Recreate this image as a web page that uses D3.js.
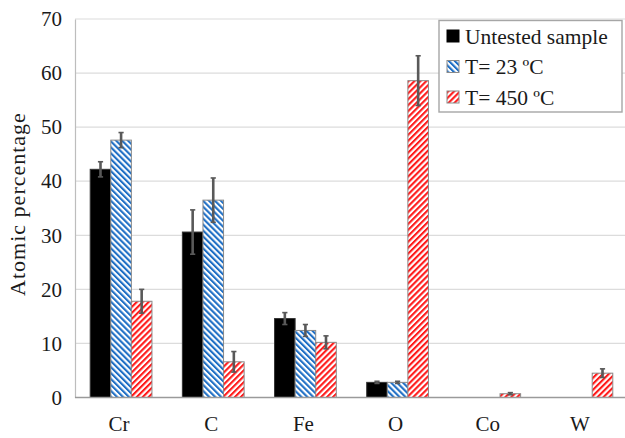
<!DOCTYPE html>
<html>
<head>
<meta charset="utf-8">
<script src="https://cdn.jsdelivr.net/npm/d3@7"></script>
<style>
  html, body { margin: 0; padding: 0; background: #fff; }
  svg { display: block; }
  svg text { font-family: "Liberation Serif", "Times New Roman", Tinos, serif !important; }
</style>
</head>
<body>
<svg id="chart" width="625" height="438"></svg>
<script>
// Element composition (atomic %) from EDS, mean and standard deviation
const elements = ["Cr", "C", "Fe", "O", "Co", "W"];
const seriesNames = ["Untested sample", "T= 23 ºC", "T= 450 ºC"];
const untested    = [42.2, 30.6, 14.6, 2.8, 0, 0];
const untestedErr = [1.4, 4.1, 1.1, 0.2, 0, 0];
const t23         = [47.6, 36.5, 12.4, 2.8, 0, 0];
const t23Err      = [1.4, 4.1, 1.1, 0.2, 0, 0];
const t450        = [17.8, 6.6, 10.2, 58.6, 0.7, 4.5];
const t450Err     = [2.2, 1.9, 1.2, 4.6, 0.2, 0.8];
const yTicks = [0, 10, 20, 30, 40, 50, 60, 70];

const values = [untested, t23, t450];
const errors = [untestedErr, t23Err, t450Err];

const svg = d3.select("#chart");
const W = 625, H = 438;
const plotLeft = 75, plotRight = 628, plotTop = 19, plotBottom = 397.5;
const serifFace = '"Liberation Serif", "Times New Roman", Tinos, serif';

// Hatch patterns
const defs = svg.append("defs");
function hatch(id, color, angle) {
  const p = defs.append("pattern")
    .attr("id", id).attr("patternUnits", "userSpaceOnUse")
    .attr("width", 4.2).attr("height", 4.2)
    .attr("patternTransform", `rotate(${angle})`);
  p.append("rect").attr("width", 4.2).attr("height", 4.2).attr("fill", "#fff");
  p.append("rect").attr("width", 2.1).attr("height", 4.2).attr("fill", color);
}
hatch("hatchBlue", "#1f6fc5", -45);
hatch("hatchRed", "#ff1a1a", 45);

const fills = ["#000", "url(#hatchBlue)", "url(#hatchRed)"];

const x0 = d3.scaleBand().domain(elements).range([plotLeft, plotRight]).paddingInner(0).paddingOuter(0);
const x1 = d3.scaleBand().domain(d3.range(3)).range([x0.bandwidth() * 0.165, x0.bandwidth() * 0.835]);
const y = d3.scaleLinear().domain([0, 70]).range([plotBottom, plotTop]);

// Gridlines
svg.append("g").selectAll("line").data(yTicks.filter(d => d > 0)).join("line")
  .attr("x1", plotLeft).attr("x2", W)
  .attr("y1", d => y(d)).attr("y2", d => y(d))
  .attr("stroke", "#dcdcdc").attr("stroke-width", 1.2);

// Y axis
const yAxis = svg.append("g").attr("transform", `translate(${plotLeft},0)`)
  .call(d3.axisLeft(y).tickValues(yTicks).tickSize(0).tickPadding(13));
yAxis.attr("font-family", null).attr("font-size", null);
yAxis.select(".domain").attr("stroke", "#bdbdbd").attr("stroke-width", 1.2);
yAxis.selectAll("text").style("font-size", "21px");

// Bars
const groups = svg.append("g").selectAll("g").data(elements).join("g")
  .attr("transform", d => `translate(${x0(d)},0)`);

const rows = (d, i) => values.map((s, k) => ({ k, v: s[i], e: errors[k][i] })).filter(r => r.v > 0);

groups.selectAll("rect").data(rows).join("rect")
  .attr("x", d => x1(d.k))
  .attr("width", x1.bandwidth())
  .attr("y", d => y(d.v))
  .attr("height", d => y(0) - y(d.v))
  .attr("fill", d => fills[d.k])
  .attr("stroke", d => d.k === 0 ? "#333" : "#8a8a8a")
  .attr("stroke-width", 1);

// Error bars
const eb = groups.selectAll("g.err").data(rows)
  .join("g").attr("class", "err")
  .attr("transform", d => `translate(${x1(d.k) + x1.bandwidth() / 2},0)`);
eb.append("line")
  .attr("y1", d => y(d.v + d.e)).attr("y2", d => y(d.v - d.e))
  .attr("stroke", "#595959").attr("stroke-width", 2.6);
eb.selectAll("line.cap").data(d => [d.v + d.e, d.v - d.e]).join("line").attr("class", "cap")
  .attr("x1", -2.6).attr("x2", 2.6)
  .attr("y1", d => y(d)).attr("y2", d => y(d))
  .attr("stroke", "#595959").attr("stroke-width", 1.6);

// X axis baseline and labels
svg.append("line").attr("x1", plotLeft).attr("x2", W).attr("y1", y(0)).attr("y2", y(0))
  .attr("stroke", "#9a9a9a").attr("stroke-width", 1.3);
svg.append("g").selectAll("text").data(elements).join("text")
  .attr("x", d => x0(d) + x0.bandwidth() / 2 - 2)
  .attr("y", 431)
  .attr("text-anchor", "middle")
  .style("font-size", "21px")
  .text(d => d);

// Y axis title
svg.append("text")
  .attr("transform", "translate(25,204) rotate(-90)")
  .attr("text-anchor", "middle")
  .style("font-size", "22px")
  .style("letter-spacing", "1px")
  .text("Atomic percentage");

// Legend
const lg = svg.append("g");
lg.append("rect").attr("x", 439).attr("y", 20.5).attr("width", 183).attr("height", 91.5)
  .attr("fill", "#fff").attr("stroke", "#a6a6a6").attr("stroke-width", 1.4);
const items = lg.selectAll("g").data(seriesNames).join("g")
  .attr("transform", (d, i) => `translate(447,${36 + i * 30.5})`);
items.append("rect").attr("x", 0).attr("y", -6).attr("width", 12).attr("height", 12)
  .attr("fill", (d, i) => fills[i]).attr("stroke", (d, i) => i === 0 ? "#000" : "#8a8a8a").attr("stroke-width", 1);
items.append("text").attr("x", 18).attr("y", 7.5)
  .style("font-size", "21.5px").text(d => d);

// Serif type throughout
svg.selectAll("text").style("font-family", serifFace, "important").attr("fill", "#1a1a1a");
</script>
</body>
</html>
